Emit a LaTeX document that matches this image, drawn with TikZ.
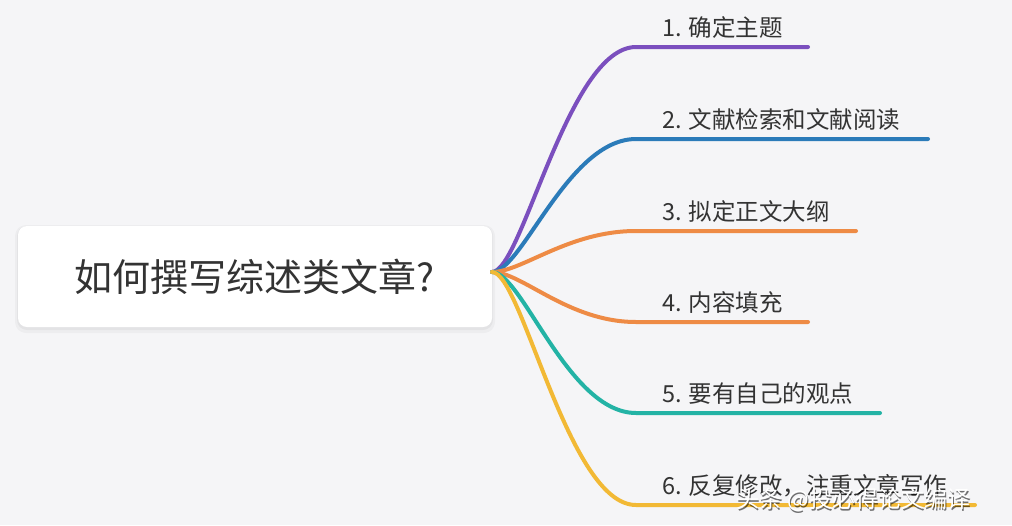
\documentclass[tikz,border=0pt]{standalone}
\usepackage{fontspec}
\setmainfont{Noto Sans CJK SC}
\usetikzlibrary{calc}
\definecolor{bg}{HTML}{F5F5F7}
\definecolor{txt}{HTML}{333333}
\definecolor{cpurple}{HTML}{7B4FBE}
\definecolor{cblue}{HTML}{2B7BB9}
\definecolor{corange}{HTML}{EE8B45}
\definecolor{cteal}{HTML}{23B3A5}
\definecolor{cyellow}{HTML}{F2B935}
\tikzset{
  branch/.style={line width=4pt, line cap=round},
  lbl/.style={anchor=south west, inner sep=0pt, text=txt, font=\fontsize{23.5}{25}\selectfont},
  rootbox/.style={fill=white, rounded corners=9pt, minimum width=474pt, minimum height=101pt, inner sep=0pt, text=txt, font=\fontsize{38}{42}\selectfont},
  wmark/.style={inner sep=0pt, anchor=west, font=\fontsize{23}{25}\selectfont}
}
\begin{document}
\begin{tikzpicture}[x=1pt,y=-1pt]
\fill[bg] (0,0) rectangle (1012,525);
\useasboundingbox (0,0) rectangle (1012,525);
% shadow
\fill[black, opacity=0.03, rounded corners=11pt] (15,225) rectangle (495,333);
\fill[black, opacity=0.04, rounded corners=10pt] (17,226) rectangle (493,330);
\node[rootbox] (root) at (255,276.5) {如何撰写综述类文章?\hspace{22pt}};
\coordinate (o) at (492,272);
% branch ends
\foreach \i/\y/\xe in {1/47/808, 2/139/928, 3/231/856, 4/322/808, 5/413/880, 6/505/975}{
  \coordinate (k\i) at (636,\y);
  \coordinate (e\i) at (\xe,\y);
}
\draw[branch, cpurple] (o) .. controls (522,272) and (568,47) .. (k1) -- (e1);
\draw[branch, cblue]   (o) .. controls (522,272) and (568,139) .. (k2) -- (e2);
\draw[branch, corange] (o) .. controls (522,272) and (568,231) .. (k3) -- (e3);
\draw[branch, corange] (o) .. controls (522,272) and (568,322) .. (k4) -- (e4);
\draw[branch, cteal]   (o) .. controls (522,272) and (568,413) .. (k5) -- (e5);
\draw[branch, cyellow] (o) .. controls (522,272) and (568,505) .. (k6) -- (e6);
% labels
\node[lbl] (l1) at (662,39) {1. 确定主题};
\node[lbl] (l2) at (662,131) {2. 文献检索和文献阅读};
\node[lbl] (l3) at (662,223) {3. 拟定正文大纲};
\node[lbl] (l4) at (662,314) {4. 内容填充};
\node[lbl] (l5) at (662,405) {5. 要有自己的观点};
\node[lbl] (l6) at (662,497) {6. 反复修改，注重文章写作};
% watermark
\node[wmark, text=black, opacity=0.55] at (737.5,502) {头条 @投必得论文编译};
\node[wmark, text=white] (wm) at (736,500) {头条 @投必得论文编译};
\end{tikzpicture}
\end{document}
